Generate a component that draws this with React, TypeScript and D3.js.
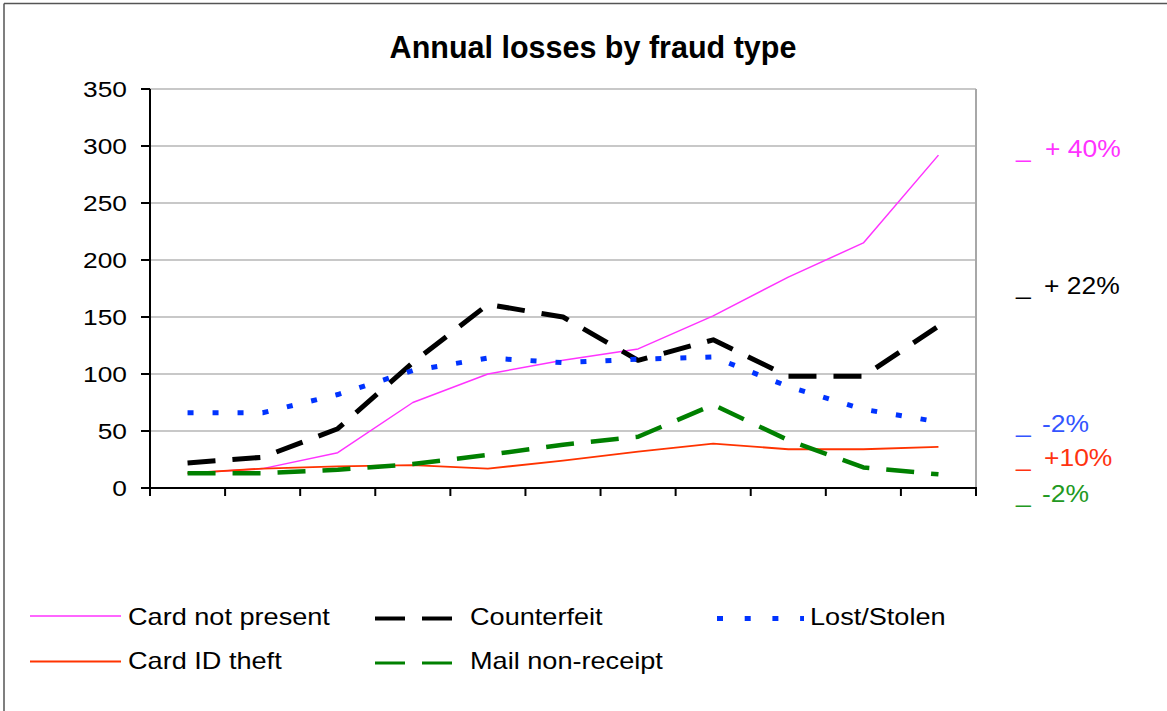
import React from "react";
import * as d3 from "d3";

const categories = ["1997", "1998", "1999", "2000", "2001", "2002", "2003", "2004", "2005", "2006", "2007"];
const cardNotPresent = [13, 17, 31, 75, 100, 112, 122, 151, 185, 215, 292];
const counterfeit = [22, 27, 52, 110, 161, 150, 112, 130, 98, 98, 142];
const lostStolen = [66, 66, 82, 103, 114, 110, 113, 115, 89, 69, 58];
const cardIdTheft = [13, 17, 19, 20, 17, 24, 32, 39, 34, 34, 36];
const mailNonReceipt = [13, 13, 16, 21, 29, 38, 45, 73, 42, 18, 12];
const yTicks = [0, 50, 100, 150, 200, 250, 300, 350];
const changeLabels = ["+ 40%", "+ 22%", "-2%", "+10%", "-2%"];

const W = 1167;
const H = 711;
const FONT = "'Liberation Sans', Arial, sans-serif";

type Series = {
  name: string;
  values: number[];
  color: string;
  width: number;
  dash?: string;
  legendWidth: number;
  labelColor: string;
};

const series: Series[] = [
  { name: "Card not present", values: cardNotPresent, color: "#ff33ff", width: 1.5, legendWidth: 1.5, labelColor: "#ff33ff" },
  { name: "Counterfeit", values: counterfeit, color: "#000000", width: 5, dash: "28 17", legendWidth: 4, labelColor: "#000000" },
  { name: "Lost/Stolen", values: lostStolen, color: "#0033ff", width: 5, dash: "6 19", legendWidth: 5, labelColor: "#3355ff" },
  { name: "Card ID theft", values: cardIdTheft, color: "#ff3300", width: 1.8, legendWidth: 2, labelColor: "#ff3311" },
  { name: "Mail non-receipt", values: mailNonReceipt, color: "#008000", width: 4.5, dash: "28 17", legendWidth: 3, labelColor: "#229922" },
];

const labelBaselines = [156.7, 293.5, 432, 465.5, 502];
const labelX = [1045, 1044, 1042, 1044, 1042];

function SText(props: { x: number; y: number; size: number; sx: number; anchor?: string; fill?: string; children: React.ReactNode }) {
  const { x, y, size, sx, anchor, fill, children } = props;
  return (
    <text
      transform={`translate(${x},${y}) scale(${sx},1)`}
      fontFamily={FONT}
      fontSize={size}
      textAnchor={anchor || "start"}
      fill={fill || "#000"}
    >
      {children}
    </text>
  );
}

export default function App() {
  const x = d3.scaleBand<string>().domain(categories).range([150, 976]);
  const y = d3.scaleLinear().domain([0, 350]).range([488, 89]);
  const line = d3
    .line<number>()
    .x((_, i) => (x(categories[i]) as number) + x.bandwidth() / 2)
    .y((d) => y(d));

  const boundaries = categories.map((c) => x(c) as number).concat([976]);

  const legendItems = [
    { s: series[0], mx: 30, tx: 128, y: 616, ty: 625 },
    { s: series[1], mx: 375, tx: 470, y: 618.5, ty: 625 },
    { s: series[2], mx: 717, tx: 810, y: 618.5, ty: 625 },
    { s: series[3], mx: 30, tx: 128, y: 661.5, ty: 668.5 },
    { s: series[4], mx: 375, tx: 470, y: 663, ty: 668.5 },
  ];

  return (
    <svg width={W} height={H} style={{ position: "absolute", left: 0, top: 0, background: "#fff" }}>
      <rect x={0} y={0} width={W} height={H} fill="#fff" />
      {/* outer frame */}
      <line x1={4} y1={3.5} x2={W} y2={3.5} stroke="#555" strokeWidth={1.5} />
      <line x1={4} y1={3.5} x2={4} y2={H} stroke="#555" strokeWidth={1.5} />

      {/* title */}
      <text x={593} y={57.5} fontFamily={FONT} fontSize={30.5} fontWeight="bold" textAnchor="middle" fill="#000">
        Annual losses by fraud type
      </text>

      {/* gridlines */}
      {yTicks.filter((t) => t > 0).map((t) => (
        <line key={t} x1={150} x2={976} y1={y(t)} y2={y(t)} stroke="#c8c8c8" strokeWidth={2} />
      ))}
      {/* plot area right border */}
      <line x1={976} x2={976} y1={y(350)} y2={488} stroke="#a8a8a8" strokeWidth={2} />

      {/* axes */}
      <line x1={150} x2={150} y1={y(350)} y2={496} stroke="#000" strokeWidth={2} />
      <line x1={142} x2={977} y1={488} y2={488} stroke="#000" strokeWidth={2} />
      {yTicks.map((t) => (
        <g key={t}>
          <line x1={141} x2={150} y1={y(t)} y2={y(t)} stroke="#000" strokeWidth={2} />
          <SText x={127} y={y(t) + 8} size={22.5} sx={1.17} anchor="end">
            {t}
          </SText>
        </g>
      ))}
      {boundaries.map((b, i) => (
        <line key={i} x1={b} x2={b} y1={488} y2={496} stroke="#000" strokeWidth={2} />
      ))}

      {/* series */}
      {series.map((s) => (
        <path
          key={s.name}
          d={line(s.values) || ""}
          fill="none"
          stroke={s.color}
          strokeWidth={s.width}
          strokeDasharray={s.dash}
          strokeLinejoin="round"
        />
      ))}

      {/* change labels */}
      {series.map((s, i) => (
        <g key={s.name + "-lbl"}>
          <SText x={1016} y={labelBaselines[i]} size={23} sx={1.15} fill={s.labelColor}>
            _
          </SText>
          <SText x={labelX[i]} y={labelBaselines[i]} size={23} sx={1.15} fill={s.labelColor}>
            {changeLabels[i]}
          </SText>
        </g>
      ))}

      {/* legend */}
      {legendItems.map((it) => (
        <g key={it.s.name + "-leg"}>
          <line
            x1={it.mx}
            x2={it.s.dash ? (it.s.name === "Lost/Stolen" ? it.mx + 87 : it.mx + 77) : 121}
            y1={it.y}
            y2={it.y}
            stroke={it.s.color}
            strokeWidth={it.s.legendWidth}
            strokeDasharray={it.s.name === "Lost/Stolen" ? "6 21.7" : it.s.dash ? "30 17" : undefined}
          />
          <SText x={it.tx} y={it.ty} size={24} sx={1.13}>
            {it.s.name}
          </SText>
        </g>
      ))}
    </svg>
  );
}
